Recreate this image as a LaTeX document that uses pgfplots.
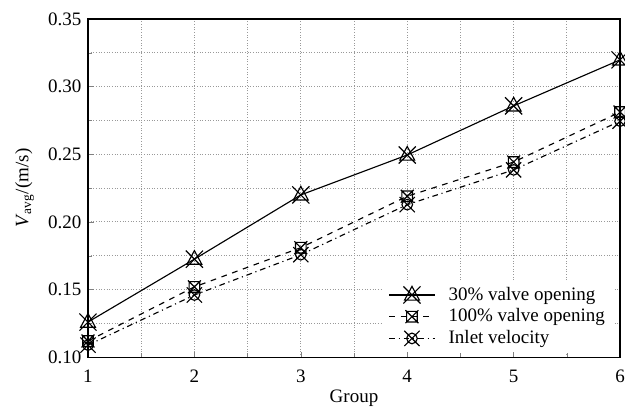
\documentclass[border=0pt]{standalone}
\usepackage{fontspec}
\setmainfont{Liberation Serif}
\usepackage{pgfplots}
\pgfplotsset{compat=1.18}
\pgfdeclareplotmark{trix}{%
 \pgfpathmoveto{\pgfqpoint{0pt}{\pgfplotmarksize}}%
 \pgfpathlineto{\pgfqpoint{0.866\pgfplotmarksize}{-0.6\pgfplotmarksize}}%
 \pgfpathlineto{\pgfqpoint{-0.866\pgfplotmarksize}{-0.6\pgfplotmarksize}}%
 \pgfpathclose
 \pgfpathmoveto{\pgfqpoint{-\pgfplotmarksize}{-\pgfplotmarksize}}%
 \pgfpathlineto{\pgfqpoint{\pgfplotmarksize}{\pgfplotmarksize}}%
 \pgfpathmoveto{\pgfqpoint{-\pgfplotmarksize}{\pgfplotmarksize}}%
 \pgfpathlineto{\pgfqpoint{\pgfplotmarksize}{-\pgfplotmarksize}}%
 \pgfusepathqstroke}
\pgfdeclareplotmark{sqx}{%
 \pgfpathrectangle{\pgfqpoint{-0.7\pgfplotmarksize}{-0.7\pgfplotmarksize}}{\pgfqpoint{1.4\pgfplotmarksize}{1.4\pgfplotmarksize}}%
 \pgfpathmoveto{\pgfqpoint{-0.85\pgfplotmarksize}{-0.85\pgfplotmarksize}}%
 \pgfpathlineto{\pgfqpoint{0.85\pgfplotmarksize}{0.85\pgfplotmarksize}}%
 \pgfpathmoveto{\pgfqpoint{-0.85\pgfplotmarksize}{0.85\pgfplotmarksize}}%
 \pgfpathlineto{\pgfqpoint{0.85\pgfplotmarksize}{-0.85\pgfplotmarksize}}%
 \pgfusepathqstroke}
\pgfdeclareplotmark{cirx}{%
 \pgfpathcircle{\pgfpointorigin}{0.7\pgfplotmarksize}%
 \pgfpathmoveto{\pgfqpoint{-\pgfplotmarksize}{-\pgfplotmarksize}}%
 \pgfpathlineto{\pgfqpoint{\pgfplotmarksize}{\pgfplotmarksize}}%
 \pgfpathmoveto{\pgfqpoint{-\pgfplotmarksize}{\pgfplotmarksize}}%
 \pgfpathlineto{\pgfqpoint{\pgfplotmarksize}{-\pgfplotmarksize}}%
 \pgfusepathqstroke}
\begin{document}
\begin{tikzpicture}[font=\rmfamily]
\useasboundingbox (-46.3pt,-27.4pt) rectangle (282.6pt,188pt);
\begin{axis}[
  name=ax,
  at={(0pt,0pt)}, anchor=south west,
  scale only axis,
  width=280pt, height=178pt,
  xmin=1, xmax=6, ymin=0.10, ymax=0.35,
  xtick={1,2,3,4,5,6},
  ytick={0.10,0.15,0.20,0.25,0.30,0.35},
  minor x tick num=1, minor y tick num=1,
  grid=both,
  major grid style={gray!80, densely dotted, line width=0.5pt},
  minor grid style={gray!80, densely dotted, line width=0.5pt},
  tick align=inside, tick pos=left,
  major tick length=3pt, minor tick length=2pt,
  axis line style={line width=0.8pt},
  /pgf/number format/assume math mode=true,
  ticklabel style={font=\rmfamily},
  yticklabel style={/pgf/number format/fixed, /pgf/number format/fixed zerofill, /pgf/number format/precision=2},
  xticklabel style={yshift=-3pt},
  xlabel={Group},
  ylabel={\textit{V}\textsubscript{avg}/(m/s)},
  label style={font=\rmfamily},
  xlabel style={yshift=3pt},
  ylabel style={yshift=0.5pt},
  legend style={at={(0.99,0.014)}, anchor=south east, draw=none, fill=white, font=\rmfamily, row sep=-1pt, inner ysep=1pt},
  legend cell align=left,
  legend image code/.code={\draw[mark repeat=2,mark phase=2,#1] plot coordinates {(0pt,0pt) (12pt,0pt) (24pt,0pt)}; \path (29pt,0pt);},
]
\addplot[black, line width=0.6pt, mark=trix, mark size=4.5pt, mark options={solid}]
 coordinates {(1,0.126) (2,0.1725) (3,0.220) (4,0.2495) (5,0.2858) (6,0.3198)};
\addlegendentry{30\% valve opening}
\addplot[black, line width=0.6pt, dashed, mark=sqx, mark size=4pt, mark options={solid}]
 coordinates {(1,0.112) (2,0.152) (3,0.181) (4,0.219) (5,0.2443) (6,0.2812)};
\addlegendentry{100\% valve opening}
\addplot[black, line width=0.6pt, dash dot, mark=cirx, mark size=4pt, mark options={solid}]
 coordinates {(1,0.109) (2,0.146) (3,0.1758) (4,0.2128) (5,0.2385) (6,0.2745)};
\addlegendentry{Inlet velocity}
\end{axis}
\end{tikzpicture}
\end{document}
